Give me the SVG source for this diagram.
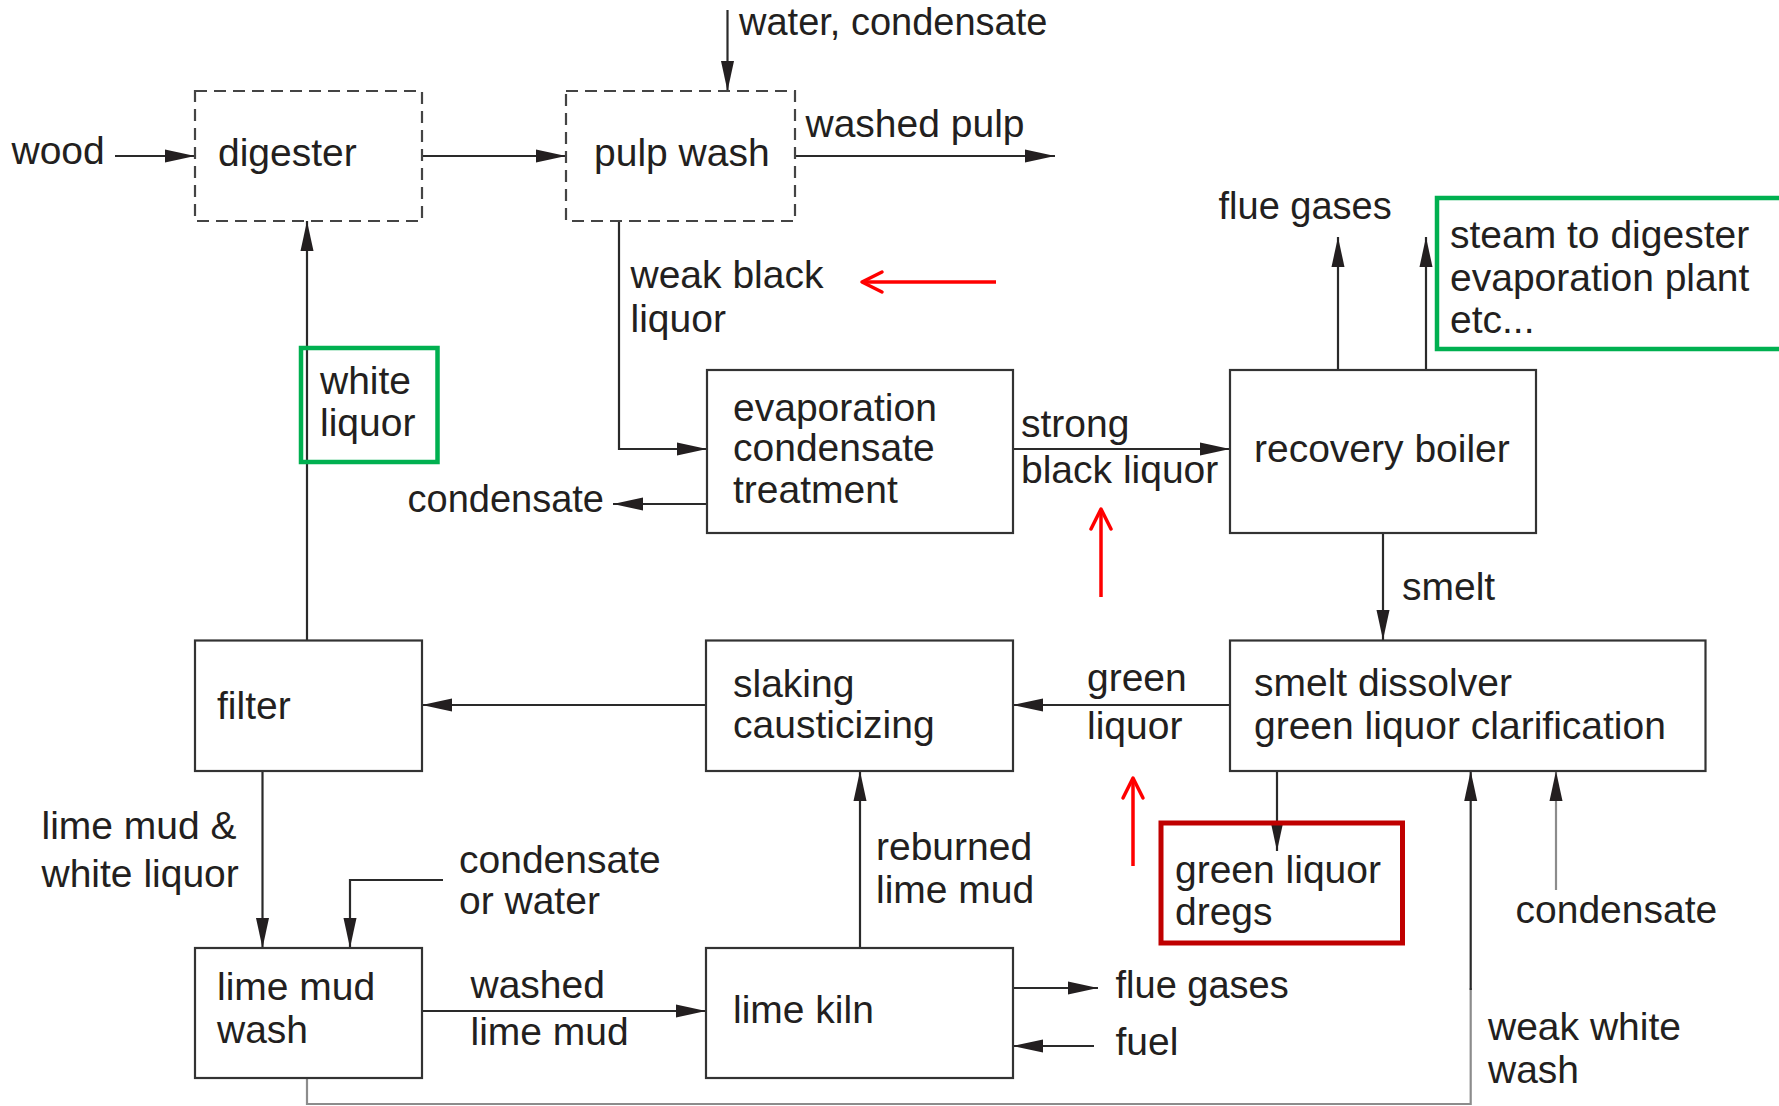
<svg xmlns="http://www.w3.org/2000/svg" width="1779" height="1106" viewBox="0 0 1779 1106">
<style>
  text { font-family: "Liberation Sans", Arial, sans-serif; font-size: 39px; fill: #231f20; }
  .sm { font-size: 38px; }
  .box { fill: none; stroke: #333; stroke-width: 2.2; }
  .dash { fill: none; stroke: #444; stroke-width: 2.2; stroke-dasharray: 12 7; }
  .ln { fill: none; stroke: #2a2a2a; stroke-width: 2.2; }
  .gray { fill: none; stroke: #8c8c8c; stroke-width: 2.2; }
  .green { fill: none; stroke: #00B050; stroke-width: 4.5; }
  .dred { fill: none; stroke: #C00000; stroke-width: 5; }
  .red { fill: none; stroke: #FF0000; stroke-width: 3.5; }
</style>
<defs>
  <marker id="ah" viewBox="0 0 30 14" refX="30" refY="7" markerWidth="30" markerHeight="14" markerUnits="userSpaceOnUse" orient="auto">
    <path d="M0,0.5 L30,7 L0,13.5 z" fill="#231f20"/>
  </marker>
  <marker id="rah" viewBox="-24 -14 28 28" refX="0" refY="0" markerWidth="28" markerHeight="28" markerUnits="userSpaceOnUse" orient="auto">
    <path d="M-20,-10 L0,0 L-20,10" fill="none" stroke="#FF0000" stroke-width="3.5" stroke-linecap="round" stroke-linejoin="round"/>
  </marker>
</defs>
<rect width="1779" height="1106" fill="#ffffff"/>

<g id="connectors">
  <path class="ln" d="M115,156 H195" marker-end="url(#ah)"/>
  <path class="ln" d="M422,156 H566" marker-end="url(#ah)"/>
  <path class="ln" d="M727.5,10 V91" marker-end="url(#ah)"/>
  <path class="ln" d="M795,156 H1055" marker-end="url(#ah)"/>
  <path class="ln" d="M619,221 V449 H707" marker-end="url(#ah)"/>
  <path class="ln" d="M707,504 H613" marker-end="url(#ah)"/>
  <path class="ln" d="M1013,449 H1230" marker-end="url(#ah)"/>
  <path class="ln" d="M1338,370 V237" marker-end="url(#ah)"/>
  <path class="ln" d="M1426,370 V237" marker-end="url(#ah)"/>
  <path class="ln" d="M1383,533 V640" marker-end="url(#ah)"/>
  <path class="ln" d="M1230,705 H1013" marker-end="url(#ah)"/>
  <path class="ln" d="M1277,771 V851" marker-end="url(#ah)"/>
  <path class="ln" d="M706,705 H422" marker-end="url(#ah)"/>
  <path class="ln" d="M307,640 V221" marker-end="url(#ah)"/>
  <path class="ln" d="M262.5,771 V948" marker-end="url(#ah)"/>
  <path class="ln" d="M443,880 H350 V948" marker-end="url(#ah)"/>
  <path class="ln" d="M422,1011 H706" marker-end="url(#ah)"/>
  <path class="ln" d="M860,948 V771" marker-end="url(#ah)"/>
  <path class="ln" d="M1013,988 H1098" marker-end="url(#ah)"/>
  <path class="ln" d="M1094,1046 H1013" marker-end="url(#ah)"/>
  <path class="gray" d="M307,1078 V1104 H1470.7 V988"/>
  <path class="ln" d="M1470.7,990 V771" marker-end="url(#ah)"/>
  <path class="gray" d="M1556,890 V771" marker-end="url(#ah)"/>
  <path class="red" d="M996,282 H862" marker-end="url(#rah)"/>
  <path class="red" d="M1101,597 V509" marker-end="url(#rah)"/>
  <path class="red" d="M1133,866 V778" marker-end="url(#rah)"/>
</g>

<g id="digester">
  <rect class="dash" x="195" y="91" width="227" height="130"/>
  <text x="218" y="166">digester</text>
</g>
<g id="pulp-wash">
  <rect class="dash" x="566" y="91" width="229" height="130"/>
  <text x="594" y="166">pulp wash</text>
</g>
<g id="evaporation">
  <rect class="box" x="707" y="370" width="306" height="163"/>
  <text x="733" y="421">evaporation</text>
  <text x="733" y="461">condensate</text>
  <text x="733" y="503">treatment</text>
</g>
<g id="recovery-boiler">
  <rect class="box" x="1230" y="370" width="306" height="163"/>
  <text x="1254" y="462">recovery boiler</text>
</g>
<g id="filter">
  <rect class="box" x="195" y="640.5" width="227" height="130.5"/>
  <text x="217" y="719">filter</text>
</g>
<g id="slaking">
  <rect class="box" x="706" y="640.5" width="307" height="130.5"/>
  <text x="733" y="697">slaking</text>
  <text x="733" y="738">causticizing</text>
</g>
<g id="smelt-dissolver">
  <rect class="box" x="1230" y="640.5" width="475.5" height="130.5"/>
  <text x="1254" y="696">smelt dissolver</text>
  <text x="1254" y="739">green liquor clarification</text>
</g>
<g id="lime-mud-wash">
  <rect class="box" x="195" y="948" width="227" height="130"/>
  <text x="217" y="1000">lime mud</text>
  <text x="217" y="1043">wash</text>
</g>
<g id="lime-kiln">
  <rect class="box" x="706" y="948" width="307" height="130"/>
  <text x="733" y="1023">lime kiln</text>
</g>
<g id="white-liquor">
  <rect class="green" x="301" y="348" width="136.5" height="114"/>
  <text x="320" y="394">white</text>
  <text x="320" y="436">liquor</text>
</g>
<g id="steam">
  <rect class="green" x="1437" y="198" width="360" height="151"/>
  <text x="1450" y="248">steam to digester</text>
  <text x="1450" y="291">evaporation plant</text>
  <text x="1450" y="333">etc...</text>
</g>
<g id="green-liquor-dregs">
  <rect class="dred" x="1161" y="823" width="241.5" height="120"/>
  <text x="1175" y="883">green liquor</text>
  <text x="1175" y="925">dregs</text>
</g>

<g id="labels">
  <text x="11.5" y="164">wood</text>
  <text class="sm" x="739" y="35">water, condensate</text>
  <text x="805.5" y="137">washed pulp</text>
  <text x="630.5" y="288">weak black</text>
  <text x="630.5" y="332">liquor</text>
  <text class="sm" x="407.5" y="512">condensate</text>
  <text x="1021" y="437">strong</text>
  <text x="1021" y="483">black liquor</text>
  <text class="sm" x="1218.5" y="219">flue gases</text>
  <text x="1402" y="600">smelt</text>
  <text x="1087" y="691">green</text>
  <text x="1087" y="739">liquor</text>
  <text x="41.5" y="839">lime mud &amp;</text>
  <text x="41.5" y="887">white liquor</text>
  <text x="459" y="873">condensate</text>
  <text x="459" y="914">or water</text>
  <text x="876" y="860">reburned</text>
  <text x="876" y="903">lime mud</text>
  <text x="1515.5" y="923">condensate</text>
  <text x="470.5" y="998">washed</text>
  <text x="470.5" y="1045">lime mud</text>
  <text class="sm" x="1115.5" y="998">flue gases</text>
  <text x="1115.5" y="1055">fuel</text>
  <text x="1488" y="1040">weak white</text>
  <text x="1488" y="1083">wash</text>
</g>
</svg>
